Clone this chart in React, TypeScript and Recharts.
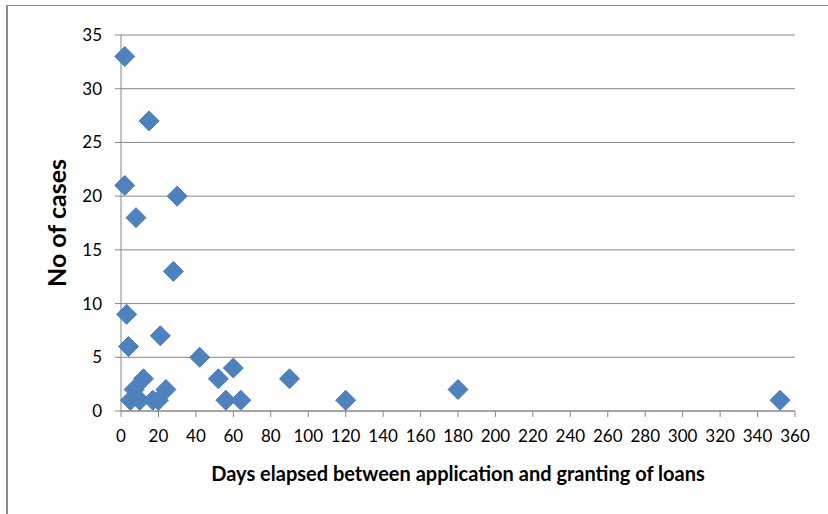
import React from 'react';
import { ScatterChart, Scatter, XAxis, YAxis, CartesianGrid, Label } from 'recharts';

const daysElapsed = [2, 2, 3, 4, 8, 15, 30, 28, 21, 42, 52, 60, 56, 64, 90, 120, 180, 352, 5, 7, 10, 12, 17, 20, 24];
const noOfCases = [33, 21, 9, 6, 18, 27, 20, 13, 7, 5, 3, 4, 1, 1, 3, 1, 2, 1, 1, 2, 1, 3, 1, 1, 2];
const xTicks = [0, 20, 40, 60, 80, 100, 120, 140, 160, 180, 200, 220, 240, 260, 280, 300, 320, 340, 360];
const yTicks = [0, 5, 10, 15, 20, 25, 30, 35];
const xTitle = 'Days elapsed between application and granting of loans';
const yTitle = 'No of cases';

const data = daysElapsed.map((d, i) => ({ x: d, y: noOfCases[i] }));

const FONT = 'Lato, "Open Sans", sans-serif';
const GRID = '#878787';

const Diamond = (props: any) => {
  const { cx, cy } = props;
  if (cx == null || cy == null) return null;
  const r = 10;
  return (
    <path
      d={`M${cx},${cy - r}L${cx + r},${cy}L${cx},${cy + r}L${cx - r},${cy}Z`}
      fill="#4F81BD"
      stroke="#4A7EBB"
      strokeWidth={1}
    />
  );
};

export default function App() {
  return (
    <div style={{ position: 'fixed', left: 0, top: 0, width: 828, height: 514, overflow: 'hidden', background: '#fff' }}>
      <div
        style={{
          position: 'absolute',
          left: 6,
          top: 5,
          width: 900,
          height: 600,
          borderLeft: '2px solid #8a8a8a',
          borderTop: '1px solid #8a8a8a',
        }}
      />
      <div style={{ position: 'absolute', left: 0, top: 0 }}>
        <ScatterChart width={828} height={514} margin={{ top: 35, right: 33, bottom: 23, left: 0 }}>
          <CartesianGrid horizontal={true} vertical={false} stroke={GRID} strokeWidth={1} />
          <XAxis
            type="number"
            dataKey="x"
            domain={[0, 360]}
            ticks={xTicks}
            interval={0}
            height={80}
            stroke={GRID}
            tickSize={6}
            tickMargin={13}
            tick={{ fill: '#000', fontSize: 17, fontFamily: FONT }}
            tickLine={{ stroke: GRID }}
            axisLine={{ stroke: GRID }}
          >
            <Label
              value={xTitle}
              position="center"
              dy={23}
              style={{ fontFamily: FONT, fontWeight: 700, fontSize: 20, fill: '#000' }}
            />
          </XAxis>
          <YAxis
            type="number"
            dataKey="y"
            domain={[0, 35]}
            ticks={yTicks}
            interval={0}
            width={121}
            stroke={GRID}
            tickSize={6}
            tickMargin={13}
            tick={{ fill: '#000', fontSize: 17, fontFamily: FONT }}
            tickLine={{ stroke: GRID }}
            axisLine={{ stroke: GRID }}
          >
            <Label
              value={yTitle}
              position="center"
              angle={-90}
              dx={-3}
              style={{ fontFamily: FONT, fontWeight: 700, fontSize: 25, fill: '#000', textAnchor: 'middle' }}
            />
          </YAxis>
          <Scatter data={data} shape={Diamond} isAnimationActive={false} />
        </ScatterChart>
      </div>
    </div>
  );
}
